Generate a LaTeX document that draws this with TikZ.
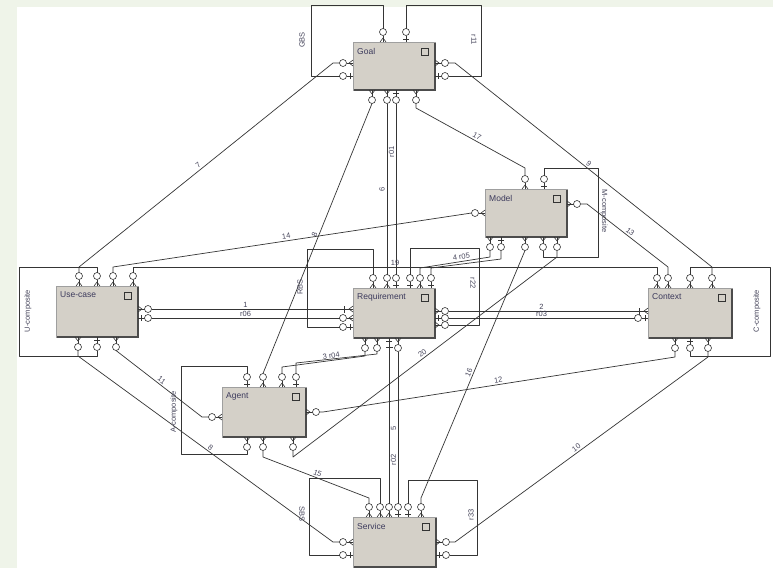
\documentclass[tikz,border=0pt]{standalone}
\usepackage{fontspec}
\setmainfont{Liberation Sans}
\definecolor{boxfill}{HTML}{D4D0C8}
\definecolor{lncol}{HTML}{353535}
\definecolor{ttlcol}{HTML}{3C3A5C}
\definecolor{lblcol}{HTML}{45445A}
\definecolor{mint}{HTML}{EFF4E9}
\tikzset{
  conn/.style={draw=lncol, line width=0.7pt, line join=round},
  pline/.style={draw=lncol, line width=0.6pt},
  ebox/.style={rectangle, fill=boxfill, draw=gray!75, line width=0.5pt, inner sep=0pt, anchor=north west},
  boxshade/.style={draw=black!70, line width=1.5pt},
  ttl/.style={anchor=west, inner sep=0pt, font=\fontsize{8.5}{9}\selectfont, text=ttlcol},
  lbl/.style={inner sep=0.5pt, font=\fontsize{7.5}{8}\selectfont, text=lblcol},
}
\newcommand{\mkport}[6]{%
  \begin{scope}[shift={(#2,#3)}, rotate=#4]
    \draw[pline] (0pt,0pt) -- (6.5pt,0pt);
    \if#6c
      \draw[pline] (0pt,3pt) -- (4pt,0pt) -- (0pt,-3pt);
    \else
      \draw[pline] (3pt,3pt) -- (3pt,-3pt);
    \fi
    \if#5o
      \draw[pline, fill=white] (10pt,0pt) circle[radius=3.5pt];
    \else
      \draw[pline] (6.5pt,0pt) -- (13.5pt,0pt);
      \draw[pline] (9pt,3.5pt) -- (9pt,-3.5pt);
    \fi
    \coordinate (#1) at (13.5pt,0pt);
  \end{scope}}
\newcommand{\mkbox}[6]{%
  \node[ebox, minimum width=#4pt, minimum height=#5pt] (#1) at (#2,#3) {};
  \draw[boxshade] ([xshift=1pt,yshift=0.75pt]#1.south west) -- ([xshift=-0.75pt,yshift=0.75pt]#1.south east) -- ([xshift=-0.75pt,yshift=-1pt]#1.north east);
  \draw[draw=black!80, line width=0.7pt] ([xshift=-14pt,yshift=-6pt]#1.north east) rectangle +(7pt,-7pt);
  \node[ttl] (#1t) at ([xshift=4pt,yshift=-9pt]#1.north west) {#6};}
\begin{document}
\begin{tikzpicture}[x=1pt, y=-1pt]
\useasboundingbox (0,0) rectangle (773,568);
\fill[mint] (0,0) rectangle (773,568);
\fill[white] (17,7) rectangle (773,568);
% boxes
\mkbox{goal}{353}{42}{82}{48}{Goal}
\mkbox{model}{485}{189}{82}{48}{Model}
\mkbox{usecase}{56}{286}{82}{51}{Use-case}
\mkbox{req}{353}{288}{82}{50}{Requirement}
\mkbox{context}{648}{288}{84}{50}{Context}
\mkbox{agent}{222}{387}{84}{50}{Agent}
\mkbox{service}{353}{517}{83}{50}{Service}
% ports
\mkport{gT1}{383}{42}{90}{o}{c}
\mkport{gT2}{406}{42}{90}{o}{b}
\mkport{gL1}{353}{63}{180}{o}{c}
\mkport{gL2}{353}{76}{180}{o}{b}
\mkport{gR1}{435}{63}{0}{o}{c}
\mkport{gR2}{435}{76}{0}{o}{b}
\mkport{gB1}{372}{90}{270}{o}{c}
\mkport{gB2}{387}{90}{270}{o}{c}
\mkport{gB3}{396}{90}{270}{o}{b}
\mkport{gB4}{416}{90}{270}{o}{c}
\mkport{mT1}{525}{189}{90}{o}{c}
\mkport{mT2}{544}{189}{90}{o}{b}
\mkport{mL}{485}{213}{180}{o}{c}
\mkport{mR}{567}{204}{0}{o}{c}
\mkport{mB1}{490}{237}{270}{o}{c}
\mkport{mB2}{501}{237}{270}{o}{b}
\mkport{mB3}{525}{237}{270}{o}{c}
\mkport{mB4}{543}{237}{270}{o}{c}
\mkport{mB5}{557}{237}{270}{o}{c}
\mkport{uT1}{79}{286}{90}{o}{c}
\mkport{uT2}{97}{286}{90}{o}{c}
\mkport{uT3}{113}{286}{90}{o}{c}
\mkport{uT4}{133}{286}{90}{o}{c}
\mkport{uR1}{138}{309}{0}{o}{c}
\mkport{uR2}{138}{318}{0}{o}{b}
\mkport{uB1}{78}{337}{270}{o}{c}
\mkport{uB2}{97}{337}{270}{o}{b}
\mkport{uB3}{116}{337}{270}{o}{c}
\mkport{rT1}{373}{288}{90}{o}{c}
\mkport{rT2}{387}{288}{90}{o}{c}
\mkport{rT3}{396}{288}{90}{o}{b}
\mkport{rT4}{410}{288}{90}{o}{b}
\mkport{rT5}{420}{288}{90}{o}{c}
\mkport{rT6}{431}{288}{90}{o}{b}
\mkport{rL1}{353}{309}{180}{b}{c}
\mkport{rL2}{353}{318}{180}{o}{c}
\mkport{rL3}{353}{327}{180}{o}{b}
\mkport{rR1}{435}{311}{0}{o}{c}
\mkport{rR2}{435}{318}{0}{o}{b}
\mkport{rR3}{435}{325}{0}{o}{c}
\mkport{rB1}{365}{338}{270}{o}{c}
\mkport{rB2}{377}{338}{270}{o}{c}
\mkport{rB3}{389}{338}{270}{b}{b}
\mkport{rB4}{398}{338}{270}{o}{c}
\mkport{cT1}{657}{288}{90}{o}{c}
\mkport{cT2}{668}{288}{90}{o}{c}
\mkport{cT3}{690}{288}{90}{o}{c}
\mkport{cT4}{712}{288}{90}{o}{c}
\mkport{cL1}{648}{311}{180}{b}{c}
\mkport{cL2}{648}{318}{180}{o}{b}
\mkport{cB1}{675}{338}{270}{o}{c}
\mkport{cB2}{690}{338}{270}{o}{b}
\mkport{cB3}{708}{338}{270}{o}{c}
\mkport{aT1}{247}{387}{90}{o}{b}
\mkport{aT2}{263}{387}{90}{o}{c}
\mkport{aT3}{282}{387}{90}{o}{c}
\mkport{aT4}{296}{387}{90}{o}{b}
\mkport{aL}{222}{417}{180}{o}{c}
\mkport{aR}{306}{412}{0}{o}{c}
\mkport{aB1}{247}{437}{270}{o}{c}
\mkport{aB2}{263}{437}{270}{o}{c}
\mkport{aB3}{293}{437}{270}{o}{c}
\mkport{sT1}{369}{517}{90}{o}{c}
\mkport{sT2}{380}{517}{90}{o}{c}
\mkport{sT3}{389}{517}{90}{o}{c}
\mkport{sT4}{398}{517}{90}{o}{b}
\mkport{sT5}{408}{517}{90}{o}{b}
\mkport{sT6}{421}{517}{90}{o}{c}
\mkport{sL1}{353}{542}{180}{o}{c}
\mkport{sL2}{353}{555}{180}{o}{b}
\mkport{sR1}{436}{542}{0}{o}{c}
\mkport{sR2}{436}{555}{0}{o}{b}
% connectors
\draw[conn] (gT1) -- (383,5) -- (311,5) -- (311,76) -- (gL2);
\node[lbl,rotate=90] (lgbs) at (302,40) {GBS};
\draw[conn] (gT2) -- (406,5) -- (481,5) -- (481,76) -- (gR2);
\node[lbl,rotate=-90] (lr11) at (474,40) {r11};
\draw[conn] (gL1) -- (333,63) -- node[lbl,sloped,above=1pt,pos=0.52] (l7) {7} (79,267) -- (uT1);
\draw[conn] (gR1) -- (455,63) -- node[lbl,sloped,above=1pt,pos=0.51] (l9) {9} (712,267) -- (cT4);
\draw[conn] (gB1) -- node[lbl,sloped,above=1pt,pos=0.49] (l8a) {8} (aT2);
\draw[conn] (gB2) -- (rT2);
\draw[conn] (gB3) -- (rT3);
\node[lbl,rotate=90] (lr01) at (391.5,152) {r01};
\node[lbl,rotate=90] (l6) at (382,189) {6};
\draw[conn] (gB4) -- (416,108) -- node[lbl,sloped,above=1pt,pos=0.54] (l17) {17} (525,168) -- (mT1);
\draw[conn] (mT2) -- (544,168) -- (598,168) -- (598,257) -- (543,257) -- (mB4);
\node[lbl,rotate=-90] (lmc) at (604,211) {M-composite};
\draw[conn] (mR) -- (587,204) -- node[lbl,sloped,above=1pt,pos=0.5] (l13) {13} (668,267) -- (cT2);
\draw[conn] (uT3) -- (113,267) -- node[lbl,sloped,above=1pt,pos=0.485] (l14) {14} (mL);
\draw[conn] (uT4) -- (133,267) -- node[lbl,above=1pt,pos=0.5] (l19) {19} (657,267) -- (cT1);
\draw[conn] (uT2) -- (97,267) -- (19,267) -- (19,356) -- (97,356) -- (uB2);
\node[lbl,rotate=90] (luc) at (28,311) {U-composite};
\draw[conn] (uB1) -- (78,356) -- node[lbl,sloped,above=1pt,pos=0.51] (l8b) {8} (333,542) -- (sL1);
\draw[conn] (uB3) -- node[lbl,sloped,above=1pt,pos=0.5] (l11) {11} (202,417) -- (aL);
\draw[conn] (uR1) -- node[lbl,above=0.8pt,pos=0.5] (l1) {1} (rL1);
\draw[conn] (uR2) -- node[lbl,above=0.8pt,pos=0.5] (lr06) {r06} (rL2);
\draw[conn] (rT1) -- (373,249) -- (307,249) -- (307,327) -- (rL3);
\node[lbl,rotate=90] (lrbs) at (300,287) {RBS};
\draw[conn] (rT4) -- (410,248) -- (479,248) -- (479,325) -- (rR3);
\node[lbl,rotate=-90] (lr22) at (473,283) {r22};
\draw[conn] (mB1) -- (490,257) -- node[lbl,sloped,above=1pt,pos=0.4] (l4) {4 r05} (420,268) -- (rT5);
\draw[conn] (mB2) -- (501,259) -- (431,268) -- (rT6);
\draw[conn] (rR1) -- node[lbl,above=0.8pt,pos=0.5] (l2) {2} (cL1);
\draw[conn] (rR2) -- node[lbl,above=0.8pt,pos=0.5] (lr03) {r03} (cL2);
\draw[conn] (cT3) -- (690,267) -- (770,267) -- (770,356) -- (690,356) -- (cB2);
\node[lbl,rotate=90] (lcc) at (757,311) {C-composite};
\draw[conn] (cB1) -- (675,357) -- node[lbl,sloped,above=1pt,pos=0.5] (l12) {12} (323,412) -- (aR);
\draw[conn] (cB3) -- (708,357) -- node[lbl,sloped,above=1pt,pos=0.51] (l10) {10} (455,542) -- (sR1);
\draw[conn] (mB3) -- node[lbl,sloped,above=1pt,pos=0.5] (l16) {16} (421,498) -- (sT6);
\draw[conn] (mB5) -- (557,257) -- node[lbl,sloped,above=1pt,pos=0.5] (l20) {20} (293,457) -- (aB3);
\draw[conn] (rB1) -- (365,356) -- node[lbl,sloped,above=1pt,pos=0.4] (l3) {3 r04} (282,367) -- (aT3);
\draw[conn] (rB2) -- (377,354) -- (296,363) -- (aT4);
\draw[conn] (rB3) -- (sT3);
\draw[conn] (rB4) -- (sT4);
\node[lbl,rotate=90] (l5) at (393.5,428) {5};
\node[lbl,rotate=90] (lr02) at (393.5,460) {r02};
\draw[conn] (aT1) -- (247,366) -- (181,366) -- (181,454) -- (247,454) -- (aB1);
\node[lbl,rotate=90] (lac) at (174,412) {A-composite};
\draw[conn] (aB2) -- (263,457) -- node[lbl,sloped,above=1pt,pos=0.5] (l15) {15} (369,498) -- (sT1);
\draw[conn] (sT2) -- (380,478) -- (309,478) -- (309,555) -- (sL2);
\node[lbl,rotate=-90] (lsbs) at (302,514) {SBS};
\draw[conn] (sT5) -- (408,480) -- (477,480) -- (477,555) -- (sR2);
\node[lbl,rotate=90] (lr33) at (471,515) {r33};
\end{tikzpicture}
\end{document}
